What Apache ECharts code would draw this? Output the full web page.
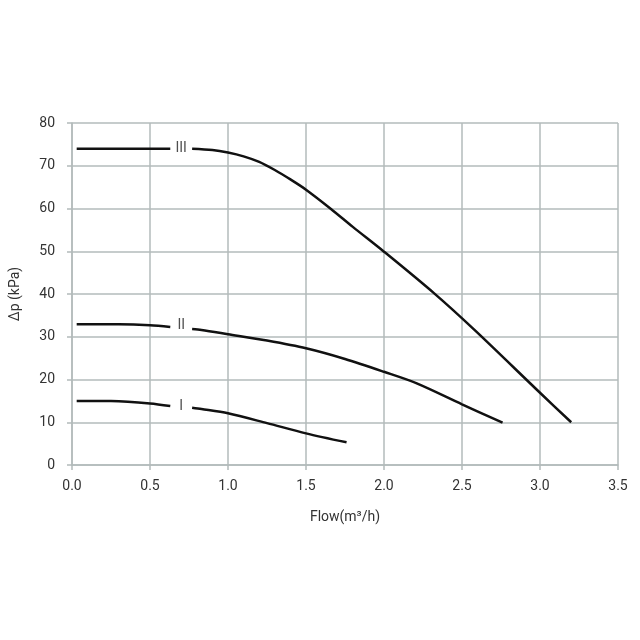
<!DOCTYPE html>
<html>
<head>
<meta charset="utf-8">
<script src="https://cdn.jsdelivr.net/npm/echarts@6/dist/echarts.min.js"></script>
<style>
  html, body { margin: 0; padding: 0; background: #fff; }
  #chart { width: 640px; height: 640px; }
</style>
</head>
<body>
<div id="chart"></div>
<script>
// pump curves, null = gap where the speed label sits
var flowIII = [0.03, 0.35, 0.63, null, 0.77, 0.9, 1.0, 1.1, 1.2, 1.3, 1.4, 1.5, 1.66, 1.8, 2.0, 2.32, 2.58, 3.0, 3.2];
var dpIII   = [74, 74, 74, null, 74, 73.7, 73.1, 72.2, 70.9, 69.0, 66.8, 64.4, 59.9, 55.7, 49.9, 40.2, 31.6, 16.9, 10];

var flowII = [0.03, 0.3, 0.5, 0.63, null, 0.77, 0.83, 1.0, 1.25, 1.5, 1.75, 2.0, 2.21, 2.5, 2.76];
var dpII   = [32.9, 32.9, 32.7, 32.3, null, 31.8, 31.6, 30.6, 29.1, 27.3, 24.8, 21.8, 19.1, 14.2, 9.9];

var flowI = [0.03, 0.25, 0.5, 0.63, null, 0.77, 0.83, 1.0, 1.25, 1.5, 1.76];
var dpI   = [15, 14.95, 14.4, 13.8, null, 13.4, 13.1, 12.1, 9.8, 7.4, 5.3];

var labelNames = ['III', 'II', 'I'];
var labelFlow = [0.7, 0.7, 0.7];
var labelDp = [74, 32.6, 13.8];

function pairs(xs, ys) {
    var out = [];
    for (var i = 0; i < xs.length; i++) {
        out.push(xs[i] == null ? [null, null] : [xs[i], ys[i]]);
    }
    return out;
}

var gridColor = '#b3bbbb';
var textColor = '#333';
var fontFamily = 'Roboto, "DejaVu Sans", sans-serif';

function curve(name, xs, ys) {
    return {
        name: name,
        type: 'line',
        data: pairs(xs, ys),
        smooth: 0.3,
        showSymbol: false,
        connectNulls: false,
        lineStyle: { color: '#111', width: 2.5 },
        z: 3
    };
}

var labelData = [];
for (var i = 0; i < labelNames.length; i++) {
    labelData.push({ name: labelNames[i], value: [labelFlow[i], labelDp[i]] });
}

var myChart = echarts.init(document.getElementById('chart'));
myChart.setOption({
    backgroundColor: '#fff',
    animation: false,
    grid: { left: 70, right: 22, top: 123, bottom: 175 },
    xAxis: {
        type: 'value',
        min: 0,
        max: 3.5,
        interval: 0.5,
        name: 'Flow(m³/h)',
        nameLocation: 'middle',
        nameGap: 45,
        nameTextStyle: { color: textColor, fontSize: 14, fontFamily: fontFamily },
        axisLine: { show: true, lineStyle: { color: gridColor, width: 1.5 } },
        axisTick: { show: true, length: 5, lineStyle: { color: gridColor, width: 1.5 } },
        axisLabel: {
            color: textColor, fontSize: 14, fontFamily: fontFamily, margin: 14,
            formatter: function (v) { return v.toFixed(1); }
        },
        splitLine: { show: true, lineStyle: { color: gridColor, width: 1.5 } }
    },
    yAxis: {
        type: 'value',
        min: 0,
        max: 80,
        interval: 10,
        name: 'Δp (kPa)',
        nameLocation: 'middle',
        nameGap: 50,
        nameRotate: 90,
        nameTextStyle: { color: textColor, fontSize: 14, fontFamily: fontFamily },
        axisLine: { show: true, lineStyle: { color: gridColor, width: 1.5 } },
        axisTick: { show: true, length: 5, lineStyle: { color: gridColor, width: 1.5 } },
        axisLabel: { color: textColor, fontSize: 14, fontFamily: fontFamily, margin: 17 },
        splitLine: { show: true, lineStyle: { color: gridColor, width: 1.5 } }
    },
    series: [
        curve('III', flowIII, dpIII),
        curve('II', flowII, dpII),
        curve('I', flowI, dpI),
        {
            name: 'labels',
            type: 'scatter',
            symbolSize: 1,
            itemStyle: { color: 'rgba(0,0,0,0)' },
            data: labelData,
            label: {
                show: true,
                position: 'inside',
                formatter: '{b}',
                color: '#222',
                fontSize: 14,
                fontFamily: fontFamily
            },
            z: 4
        }
    ]
});
</script>
</body>
</html>
